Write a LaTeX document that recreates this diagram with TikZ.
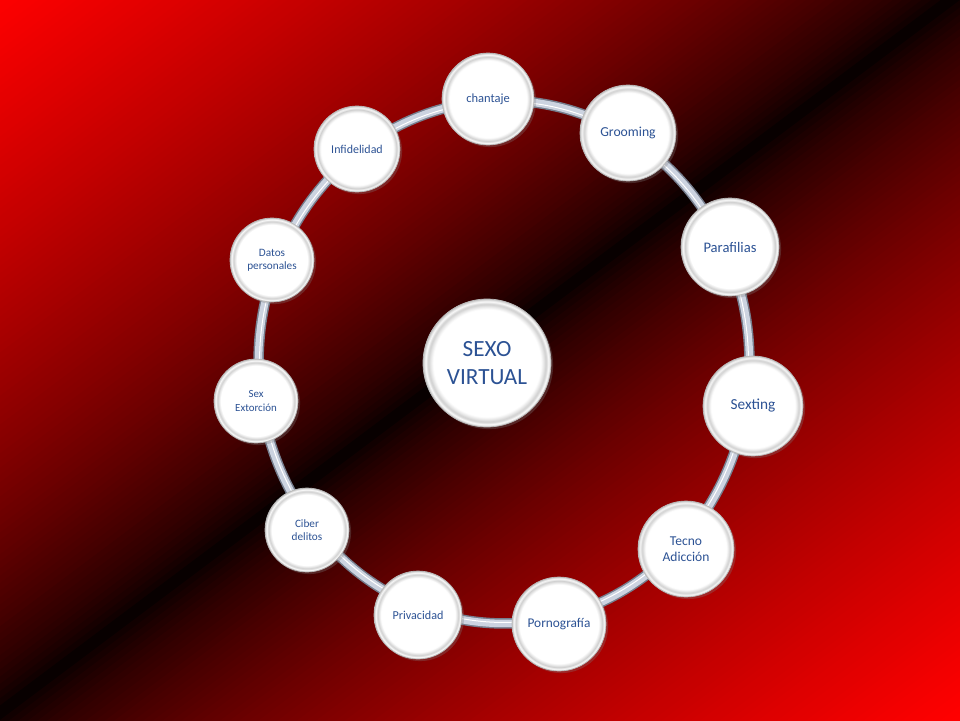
\documentclass[tikz,border=0pt]{standalone}
\usepackage{fontspec}
\setmainfont{Carlito}
\usetikzlibrary{shadows}
\definecolor{txtblue}{RGB}{44,82,148}
\definecolor{ringfill}{RGB}{204,211,224}
\definecolor{ringedge}{RGB}{118,126,142}
\pgfdeclareradialshading{bubbleshade}{\pgfpoint{0bp}{0bp}}{%
  color(0bp)=(white); color(21bp)=(white); color(22bp)=(gray!18);
  color(23bp)=(gray!38); color(24bp)=(white!95!gray); color(24.6bp)=(gray!25);
  color(25bp)=(gray!50); color(50bp)=(gray!50)}

\begin{document}
\begin{tikzpicture}[x=0.02cm, y=-0.02cm,
  bubble/.style={circle, shading=bubbleshade, draw=gray!55, line width=0.4pt,
    inner sep=0pt, align=center, text=txtblue, minimum size=#1,
    drop shadow={shadow xshift=1.2pt, shadow yshift=-1.2pt, opacity=0.3}}]
  \useasboundingbox (0,0) rectangle (960,720);
  % fondo: rojo - negro - rojo en diagonal
  \begin{scope}
    \clip (0,0) rectangle (960,720);
    \foreach \i in {0,...,199}{
      \pgfmathsetmacro{\sa}{\i/100}
      \pgfmathsetmacro{\sb}{\i/100+0.012}
      \pgfmathsetmacro{\rf}{100*(min(1,abs(\sa+0.005-0.99)))^0.65}
      \fill[red!\rf!black] ({960*(\sa+1)},-720) -- ({960*(\sa-2)},1440)
        -- ({960*(\sb-2)},1440) -- ({960*(\sb+1)},-720) -- cycle;
    }
  \end{scope}
  % anillo
  \draw[ringedge, line width=0.21cm] (504,362) ellipse [x radius=4.91cm, y radius=5.23cm];
  \draw[ringfill, line width=0.15cm] (504,362) ellipse [x radius=4.91cm, y radius=5.23cm];
  \draw[white, line width=0.02cm] (504,362) ellipse [x radius=4.89cm, y radius=5.21cm];
  % burbujas
  \node[bubble=2.56cm, font=\fontsize{13.2}{16}\selectfont] (centro) at (487,363)
    {SEXO\\VIRTUAL};
  \node[bubble=1.84cm, font=\fontsize{7.1}{8.5}\selectfont] (chantaje) at (488,99) {chantaje};
  \node[bubble=1.92cm, font=\fontsize{7.8}{9}\selectfont] (grooming) at (628,133) {Grooming};
  \node[bubble=1.96cm, font=\fontsize{8.3}{9.5}\selectfont] (parafilias) at (730,247) {Parafilias};
  \node[bubble=2.0cm, font=\fontsize{8.7}{10}\selectfont] (sexting) at (753,406) {Sexting};
  \node[bubble=1.92cm, font=\fontsize{7.7}{9}\selectfont] (tecno) at (686,549) {Tecno\\Adicción};
  \node[bubble=1.88cm, font=\fontsize{7.6}{9}\selectfont] (porno) at (559,624) {Pornografía};
  \node[bubble=1.76cm, font=\fontsize{6.9}{8}\selectfont] (privacidad) at (418,615) {Privacidad};
  \node[bubble=1.68cm, font=\fontsize{6.4}{7.5}\selectfont] (ciber) at (307,530) {Ciber\\delitos};
  \node[bubble=1.68cm, font=\fontsize{6.2}{7.5}\selectfont] (sexext) at (256,401) {Sex\\Extorción};
  \node[bubble=1.68cm, font=\fontsize{6.4}{7.5}\selectfont] (datos) at (272,260) {Datos\\personales};
  \node[bubble=1.72cm, font=\fontsize{6.8}{8}\selectfont] (infidelidad) at (357,149) {Infidelidad};
\end{tikzpicture}
\end{document}
